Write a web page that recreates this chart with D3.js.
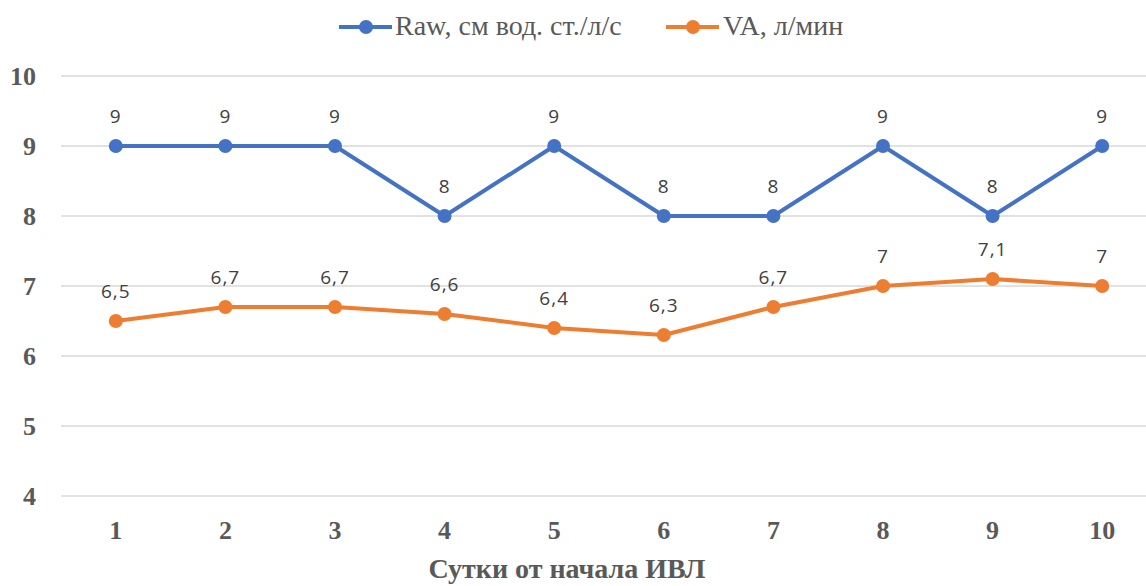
<!DOCTYPE html>
<html><head><meta charset="utf-8">
<script src="https://cdn.jsdelivr.net/npm/d3@7/dist/d3.min.js"></script>
<style>body{margin:0;background:#fff}svg{display:block}</style>
</head><body>
<svg id="c" width="1146" height="586"></svg>
<script>
const categories = ["1","2","3","4","5","6","7","8","9","10"];
const rawValues = [9,9,9,8,9,8,8,9,8,9];
const vaValues = [6.5,6.7,6.7,6.6,6.4,6.3,6.7,7,7.1,7];
const yTicks = [4,5,6,7,8,9,10];
const seriesNames = ["Raw, см вод. ст./л/с","VA, л/мин"];
const xTitle = "Сутки от начала ИВЛ";
const colors = ["#4472C4","#ED7D31"];

const svg = d3.select("#c");
const x = d3.scaleBand().domain(categories).range([61,1157]);
const y = d3.scaleLinear().domain([4,10]).range([496,76]);

// gridlines
svg.append("g").selectAll("line").data(yTicks).join("line")
  .attr("x1",61).attr("x2",1146).attr("y1",d=>y(d)).attr("y2",d=>y(d))
  .attr("stroke","#d9d9d9").attr("stroke-width",1.3);

// y labels
svg.append("g").selectAll("text").data(yTicks).join("text")
  .attr("x",36).attr("y",d=>y(d)+9).attr("text-anchor","end")
  .attr("font-family","Liberation Serif").attr("font-weight","bold").attr("font-size",26)
  .attr("fill","#595959").text(d=>d);

// x labels
svg.append("g").selectAll("text").data(categories).join("text")
  .attr("x",d=>x(d)+x.bandwidth()/2).attr("y",539).attr("text-anchor","middle")
  .attr("font-family","Liberation Serif").attr("font-weight","bold").attr("font-size",26)
  .attr("fill","#595959").text(d=>d);

svg.append("text").attr("x",567).attr("y",578).attr("text-anchor","middle")
  .attr("font-family","Liberation Serif").attr("font-weight","bold").attr("font-size",28)
  .attr("fill","#595959").text(xTitle);

const series = [rawValues, vaValues];
const line = d3.line().x((d,i)=>x(categories[i])+x.bandwidth()/2).y(d=>y(d));
const fmt = v => String(v).replace(".",",");
series.forEach((vals,si)=>{
  svg.append("path").datum(vals).attr("d",line).attr("fill","none")
    .attr("stroke",colors[si]).attr("stroke-width",4).attr("stroke-linejoin","round");
  svg.append("g").selectAll("circle").data(vals).join("circle")
    .attr("cx",(d,i)=>x(categories[i])+x.bandwidth()/2).attr("cy",d=>y(d)).attr("r",7)
    .attr("fill",colors[si]);
  svg.append("g").selectAll("text").data(vals).join("text")
    .attr("x",(d,i)=>x(categories[i])+x.bandwidth()/2).attr("y",d=>y(d)-23)
    .attr("text-anchor","middle").attr("font-family","Open Sans, Liberation Sans, sans-serif")
    .attr("font-size",19).attr("letter-spacing",1).attr("fill","#404040").text(d=>fmt(d));
});

// legend
const leg = [{x:339,tx:395},{x:666,tx:723}];
seriesNames.forEach((n,i)=>{
  const g = svg.append("g");
  g.append("line").attr("x1",leg[i].x).attr("x2",leg[i].x+53).attr("y1",27).attr("y2",27)
    .attr("stroke",colors[i]).attr("stroke-width",4);
  g.append("circle").attr("cx",leg[i].x+27).attr("cy",27).attr("r",7).attr("fill",colors[i]);
  g.append("text").attr("x",leg[i].tx).attr("y",35).attr("font-family","Liberation Serif")
    .attr("font-size",28).attr("fill","#595959").text(n);
});
</script>
</body></html>
